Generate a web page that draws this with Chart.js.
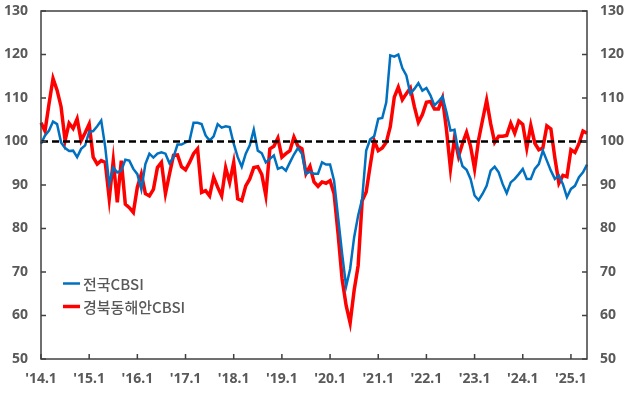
<!DOCTYPE html>
<html lang="ko">
<head>
<meta charset="utf-8">
<script src="https://cdn.jsdelivr.net/npm/chart.js@4/dist/chart.umd.min.js"></script>
<style>
  html, body { margin: 0; padding: 0; background: #fff; }
  #wrap { width: 627px; height: 393px; position: relative; }
</style>
</head>
<body>
<div id="wrap"><canvas id="chart"></canvas></div>
<script>
"use strict";

// ── Data (monthly, 2014.1 – 2025.5) ─────────────────────────────────────
const START_YEAR = 2014;
const N_MONTHS = 137;
const months = [];
for (let i = 0; i < N_MONTHS; i++) {
  const yy = String((START_YEAR + Math.floor(i / 12)) % 100).padStart(2, "0");
  months.push(`'${yy}.${(i % 12) + 1}`);
}

const seriesNames = ["전국CBSI", "경북동해안CBSI"];

const national = [
  99.5, 101.4, 102.5, 104.6, 104, 99.8, 98.5, 97.8, 97.9, 96.4, 98.3, 99.1,
  102.2, 102.4, 103.5, 104.8, 98.7, 90.2, 94, 92.9, 93.3, 95.8, 95.6, 93.7,
  92.5, 89, 94.8, 97.2, 96.3, 97.2, 97.5, 97.2, 95, 96.4, 99.3, 99.3,
  99.8, 100.2, 104.3, 104.3, 104, 101.4, 100.2, 101.2, 104, 103.2, 103.5, 103.3,
  99.5, 96.4, 94.2, 97.2, 99.1, 102.7, 97.9, 97.3, 95.2, 96, 96.8, 93.7,
  94.1, 93.3, 95.2, 97, 98.5, 97.2, 92.6, 93, 92.6, 92.6, 95.2, 94.7,
  94.7, 91, 82.6, 74.2, 66.7, 70.7, 78, 83, 86.8, 97.9, 100.5, 101.2,
  105.2, 105.4, 109, 119.8, 119.5, 120, 116.9, 115.2, 111, 112.1, 113.4, 111.7,
  112.3, 110.6, 108.3, 109.2, 110.3, 106.7, 102.5, 102.7, 97.5, 94.3, 93.5, 91.4,
  87.6, 86.5, 88, 89.8, 93.3, 94.2, 92.9, 90.2, 88.1, 90.6, 91.4, 92.5,
  93.7, 91.4, 91.4, 93.7, 94.8, 97.9, 95.6, 93.3, 91.4, 92.2, 90.2, 87.2,
  89.1, 89.8, 91.8, 92.9, 94.7
];

const gyeongbuk = [
  104.3, 102.4, 108.7, 114.5, 111.8, 108, 100.2, 104.2, 103, 105.2, 100.2, 102,
  104, 96.4, 94.8, 95.6, 95.2, 86.8, 95.6, 86, 95.6, 85.6, 84.8, 83.7,
  89.5, 92.5, 88, 87.5, 89, 94, 95.2, 88, 92.5, 96.8, 96.9, 94.2,
  93.5, 95.2, 97.2, 98.3, 88.3, 88.7, 87.5, 91.8, 89.5, 87.5, 94, 90.6,
  95.2, 86.8, 86.4, 89.8, 91.4, 94, 94.2, 92.4, 87.6, 98.3, 98.9, 100.8,
  96.4, 97.2, 97.9, 101, 98.9, 98.3, 92.6, 94.3, 90.7, 89.7, 90.7, 90.4,
  91, 88, 78.8, 68.4, 62.3, 58.3, 65.8, 71.5, 86.4, 88.4, 94.5, 100.2,
  97.9, 98.5, 99.8, 103.4, 110.2, 112.5, 109.6, 111, 112.3, 108, 104.4, 106.2,
  109, 109.2, 107.5, 107.5, 110, 102.7, 93.7, 100.8, 96.6, 99.6, 102.1, 98.9,
  93.7, 100.4, 105, 109.5, 104.1, 99.8, 101.2, 101.2, 101.4, 104.2, 101.9, 104.7,
  103.9, 98.5, 103.7, 99.6, 98.1, 98.5, 103.6, 102.9, 96.2, 90.4, 92.2, 91.9,
  98.1, 97.5, 99.5, 102.4, 101.9
];

const Y_MIN = 50, Y_MAX = 130, Y_STEP = 10;
const BASELINE = 100;

// ── Styling ─────────────────────────────────────────────────────────────
const BLUE = "#0070C0";
const RED = "#FF0000";
const AXIS = "#404040";
const TEXT = "#595959";
const FONT = "'Noto Sans CJK KR', 'Noto Sans', sans-serif";
const NUM_FONT = "'Noto Sans', 'DejaVu Sans', sans-serif";

const isJan = (i) => i % 12 === 0;

// frame, inward tick marks, dashed 100 line, inline legend
const decorations = {
  id: "decorations",
  afterDatasetsDraw(chart) {
    const { ctx, chartArea: a, scales: { x, y } } = chart;
    ctx.save();

    // dashed reference line
    const yb = y.getPixelForValue(BASELINE);
    ctx.setLineDash([7, 4]);
    ctx.lineWidth = 2.5;
    ctx.strokeStyle = "#000";
    ctx.beginPath();
    ctx.moveTo(a.left, yb);
    ctx.lineTo(a.right, yb);
    ctx.stroke();
    ctx.setLineDash([]);

    // frame
    ctx.lineWidth = 1.5;
    ctx.strokeStyle = AXIS;
    ctx.strokeRect(a.left, a.top, a.right - a.left, a.bottom - a.top);

    // inward ticks
    const TL = 5;
    ctx.beginPath();
    months.forEach((m, i) => {
      if (!isJan(i)) return;
      const px = x.getPixelForValue(i);
      ctx.moveTo(px, a.bottom);
      ctx.lineTo(px, a.bottom - TL);
    });
    for (let v = Y_MIN; v <= Y_MAX; v += Y_STEP) {
      const py = y.getPixelForValue(v);
      ctx.moveTo(a.left, py);
      ctx.lineTo(a.left + TL, py);
      ctx.moveTo(a.right, py);
      ctx.lineTo(a.right - TL, py);
    }
    ctx.stroke();

    // legend
    const items = [[seriesNames[0], BLUE, 2.5], [seriesNames[1], RED, 3.5]];
    ctx.font = `500 15px ${FONT}`;
    ctx.textBaseline = "middle";
    ctx.textAlign = "left";
    items.forEach(([name, color, w], k) => {
      const ly = a.top + 272.5 + k * 23;
      const lx = a.left + 22;
      ctx.strokeStyle = color;
      ctx.lineWidth = w;
      ctx.beginPath();
      ctx.moveTo(lx, ly);
      ctx.lineTo(lx + 17, ly);
      ctx.stroke();
      ctx.fillStyle = TEXT;
      ctx.fillText(name, lx + 20, ly + 1);
    });

    ctx.restore();
  },
};

const tickFont = { family: NUM_FONT, size: 14, weight: "bold" };
const noGrid = { display: false, drawTicks: false };

new Chart(document.getElementById("chart"), {
  type: "line",
  data: {
    labels: months,
    datasets: [
      { label: seriesNames[0], data: national, borderColor: BLUE, borderWidth: 2.5, pointRadius: 0, tension: 0 },
      { label: seriesNames[1], data: gyeongbuk, borderColor: RED, borderWidth: 3.5, pointRadius: 0, tension: 0 },
    ],
  },
  options: {
    responsive: true,
    maintainAspectRatio: false,
    animation: false,
    layout: { padding: 0 },
    plugins: { legend: { display: false }, tooltip: { enabled: false } },
    scales: {
      x: {
        offset: false,
        grid: noGrid,
        border: { display: false },
        ticks: {
          autoSkip: false, maxRotation: 0, padding: 12, color: TEXT, font: tickFont,
          callback: (v, i) => (isJan(i) ? months[i] : null),
        },
        afterFit: (s) => { s.height = 34; s.paddingLeft = 0; s.paddingRight = 0; },
      },
      y: {
        position: "left",
        min: Y_MIN, max: Y_MAX,
        grid: noGrid,
        border: { display: false },
        ticks: { stepSize: Y_STEP, padding: 13, color: TEXT, font: tickFont },
        afterFit: (s) => { s.width = 41; s.paddingTop = 11; s.paddingBottom = 0; },
      },
      y2: {
        position: "right",
        min: Y_MIN, max: Y_MAX,
        grid: noGrid,
        border: { display: false },
        ticks: { stepSize: Y_STEP, padding: 13, color: TEXT, font: tickFont },
        afterFit: (s) => { s.width = 40; s.paddingTop = 11; s.paddingBottom = 0; },
      },
    },
  },
  plugins: [decorations],
});
</script>
</body>
</html>
